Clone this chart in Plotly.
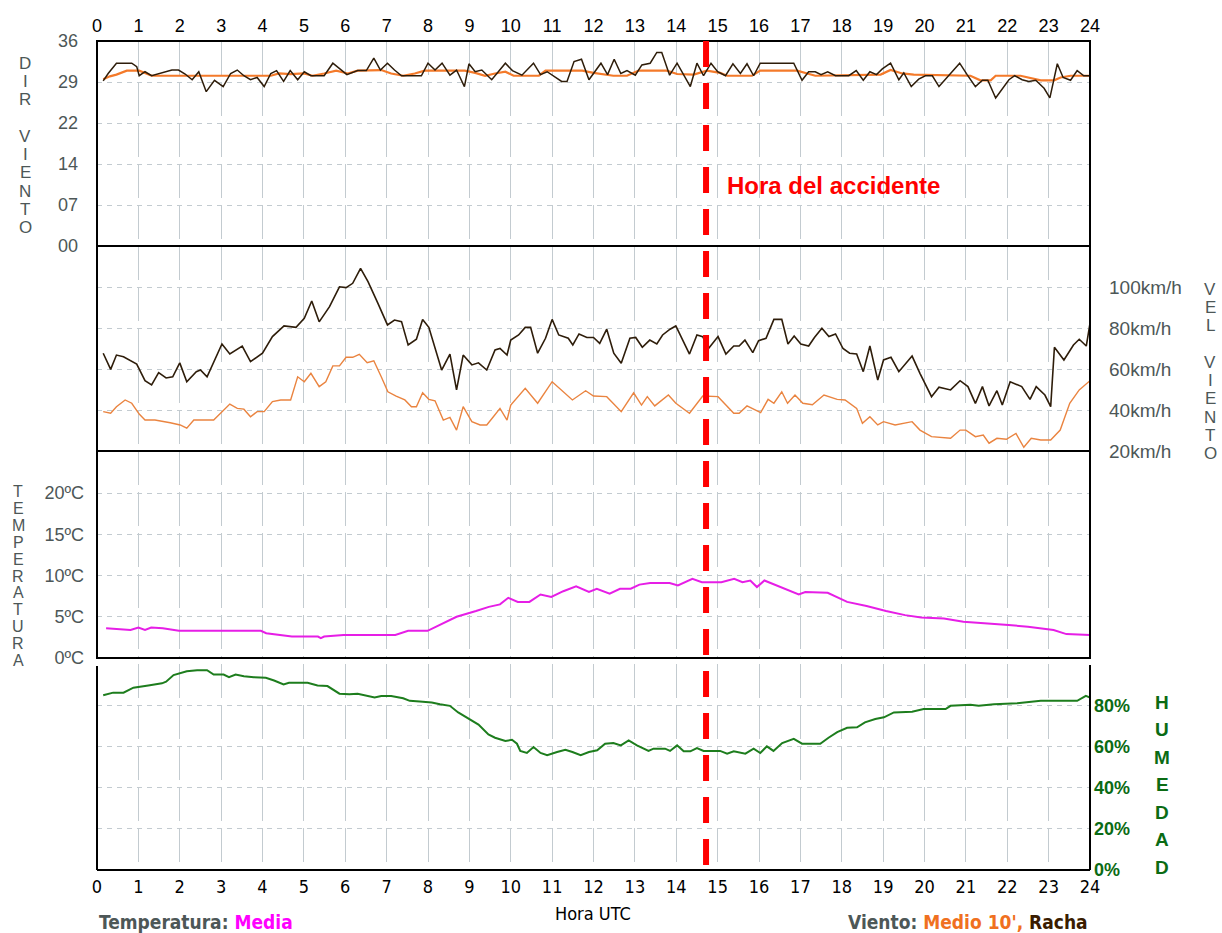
import plotly.graph_objects as go

# ---------------- data ----------------
HOUR_TICKS = list(range(25))
ACCIDENT_HOUR = 14.72

# Wind direction (tens of degrees)
DIR_TICKVALS = [0, 7.2, 14.4, 21.6, 28.8, 36]
DIR_TICKTEXT = ["00", "07", "14", "22", "29", "36"]

dir_racha_h = [0.15, 0.27, 0.47, 0.84, 0.96, 1.02, 1.16, 1.32, 1.81, 1.97, 2.13, 2.3, 2.46, 2.64, 2.84,
               3.05, 3.23, 3.39, 3.55, 3.71, 3.87, 4.04, 4.2, 4.34, 4.51, 4.67, 4.85, 5.01, 5.17, 5.49,
               5.7, 5.88, 6.04, 6.3, 6.51, 6.69, 6.85, 7.02, 7.19, 7.36, 7.84, 8.0, 8.17, 8.34, 8.53,
               8.69, 8.88, 8.99, 9.14, 9.3, 9.42, 9.54, 9.87, 10.04, 10.27, 10.55, 10.72, 10.88, 11.23,
               11.36, 11.53, 11.71, 11.89, 12.0, 12.18, 12.34, 12.5, 12.66, 12.81, 13.01, 13.17, 13.37,
               13.53, 13.65, 13.84, 14.02, 14.16, 14.34, 14.5, 14.66, 14.84, 15.0, 15.19, 15.37, 15.55,
               15.71, 15.87, 16.03, 16.84, 17.04, 17.2, 17.36, 17.5, 17.66, 17.85, 18.17, 18.35, 18.52,
               18.68, 18.84, 18.98, 19.18, 19.38, 19.5, 19.68, 19.86, 20.02, 20.19, 20.35, 20.63, 20.85,
               21.03, 21.23, 21.4, 21.53, 21.72, 21.88, 22.04, 22.18, 22.36, 22.52, 22.69, 22.89, 23.03,
               23.21, 23.35, 23.53, 23.69, 23.85, 24.0]
dir_racha = [29.0, 30.3, 32.1, 32.1, 31.5, 29.9, 30.6, 29.9, 30.9, 30.9, 30.2, 29.2, 30.6, 27.1, 29.1,
             28.0, 30.3, 30.9, 29.9, 29.2, 29.6, 28.0, 30.3, 30.8, 28.9, 30.8, 29.2, 30.6, 29.9, 29.9,
             32.1, 31.1, 30.1, 30.8, 30.8, 33.0, 30.9, 32.1, 30.9, 29.9, 29.9, 32.1, 30.9, 32.1, 30.0,
             30.9, 28.0, 32.0, 30.6, 30.9, 30.1, 29.2, 32.1, 30.8, 30.0, 32.1, 30.1, 30.6, 28.9,
             28.9, 32.4, 32.8, 29.2, 30.3, 32.1, 30.1, 32.8, 30.3, 30.8, 30.0, 31.8, 32.1,
             34.0, 34.0, 30.0, 32.1, 30.3, 28.0, 32.1, 29.9, 32.1, 30.6, 29.9, 32.0, 30.3,
             32.0, 29.9, 32.1, 32.1, 29.1, 30.6, 30.6, 30.1, 30.6, 29.9, 29.9, 30.8, 29.1,
             30.6, 30.1, 31.1, 32.1, 29.2, 30.4, 28.0, 29.3, 29.9, 29.9, 28.0, 30.3, 32.1,
             30.1, 28.0, 29.1, 29.1, 26.0, 27.7, 29.2, 29.9, 29.2, 28.9, 29.1, 27.7, 26.0,
             32.0, 29.6, 29.1, 30.8, 29.9, 29.9]

dir_medio_h = [0.15, 0.31, 0.47, 0.72, 1.02, 1.2, 1.32, 2.26, 4.2, 4.4, 4.68, 5.0, 5.21, 5.49, 5.78,
               6.06, 6.3, 6.87, 7.11, 7.4, 7.68, 7.92, 8.89, 9.14, 9.38, 9.62, 9.87, 10.07, 10.68,
               10.84, 11.73, 12.0, 12.32, 12.48, 12.81, 13.09, 13.77, 14.02, 14.42, 14.74, 15.06,
               15.23, 15.83, 16.03, 16.92, 17.12, 17.36, 18.94, 19.18, 19.46, 19.74, 21.11, 21.35,
               21.6, 21.72, 22.32, 22.56, 22.81, 23.13, 23.29, 23.53, 24.0]
dir_medio = [29.3, 29.8, 30.1, 30.8, 30.8, 30.3, 29.9, 29.9, 29.9, 30.3, 30.2, 30.3, 29.9, 30.3, 30.8,
             30.3, 30.8, 30.9, 30.3, 29.9, 30.3, 30.8, 30.8, 30.4, 29.9, 30.3, 30.6, 29.9, 29.9,
             30.8, 30.8, 30.4, 30.1, 29.9, 29.9, 30.8, 30.8, 30.2, 30.1, 30.8, 30.4,
             29.9, 29.9, 30.8, 30.8, 30.4, 29.9, 30.1, 30.9, 30.3, 30.1, 29.9, 29.1,
             29.1, 29.9, 29.9, 29.5, 29.1, 29.1, 29.6, 29.9, 29.9]

# Wind speed (km/h)
SPD_TICKVALS = [20, 40, 60, 80, 100]
SPD_TICKTEXT = ["20km/h", "40km/h", "60km/h", "80km/h", "100km/h"]

spd_racha_h = [0.15, 0.33, 0.47, 0.64, 0.96, 1.16, 1.32, 1.49, 1.67, 1.83, 2.0, 2.17, 2.4, 2.5, 2.66,
               3.02, 3.21, 3.51, 3.71, 4.0, 4.24, 4.52, 4.81, 5.01, 5.19, 5.37, 5.62, 5.86, 6.02, 6.18,
               6.37, 6.55, 6.79, 7.02, 7.19, 7.36, 7.52, 7.72, 7.87, 8.02, 8.33, 8.53, 8.69, 8.85, 9.06,
               9.22, 9.42, 9.62, 9.74, 9.91, 10.0, 10.19, 10.35, 10.48, 10.65, 10.84, 11.0, 11.16,
               11.39, 11.5, 11.65, 11.84, 12.0, 12.15, 12.32, 12.49, 12.67, 12.88, 13.02, 13.18,
               13.36, 13.53, 13.67, 13.85, 13.99, 14.16, 14.32, 14.5, 14.64, 14.78, 15.01, 15.2,
               15.39, 15.52, 15.66, 15.85, 15.99, 16.17, 16.36, 16.55, 16.7, 16.85, 17.01, 17.2,
               17.34, 17.52, 17.69, 17.85, 18.03, 18.19, 18.36, 18.52, 18.68, 18.87, 19.01, 19.19,
               19.38, 19.7, 19.89, 20.17, 20.35, 20.63, 20.86, 21.05, 21.23, 21.4, 21.56, 21.75,
               21.88, 22.07, 22.35, 22.55, 22.7, 22.91, 23.05, 23.14, 23.37, 23.6, 23.74, 23.91, 24.0]
spd_racha = [67.7, 59.8, 66.8, 66.0, 62.4, 54.3, 52.2, 58.2, 55.6, 56.2, 63.0, 53.8, 58.7, 59.5, 56.2,
             72.2, 67.3, 71.2, 63.6, 67.7, 75.8, 81.0, 80.3, 84.7, 93.2, 83.0, 90.4, 100.1, 99.7, 101.8,
             109.1, 102.6, 92.0, 81.5, 83.9, 83.1, 71.7, 74.5, 84.2, 80.3, 59.5, 67.3, 49.8, 66.8, 62.0,
             63.0, 59.5, 69.3, 70.0, 66.8, 74.1, 76.6, 80.3, 80.3, 67.7, 75.0, 84.2, 76.6,
             75.0, 71.7, 77.1, 75.4, 75.4, 72.5, 79.4, 67.7, 62.8, 75.0, 75.4, 70.6,
             74.1, 72.2, 76.6, 79.4, 81.0, 74.1, 67.3, 76.6, 75.8, 70.0, 75.8, 67.3,
             71.2, 71.2, 74.1, 68.0, 73.8, 75.0, 84.2, 84.2, 72.2, 76.1, 72.2, 71.2,
             75.4, 79.9, 75.8, 77.1, 70.0, 67.7, 67.3, 58.7, 71.2, 54.6, 64.4, 65.7,
             58.7, 66.3, 57.9, 46.5, 51.1, 49.8, 54.3, 51.4, 43.2, 51.4, 42.0, 49.4,
             42.4, 53.8, 51.4, 45.2, 51.4, 47.3, 41.6, 70.6, 64.4, 71.7, 74.5, 71.2, 82.3]

spd_medio_h = [0.15, 0.33, 0.47, 0.68, 0.84, 1.02, 1.16, 1.4, 1.77, 2.01, 2.17, 2.34, 2.82, 3.02, 3.21,
               3.39, 3.55, 3.71, 3.87, 4.04, 4.24, 4.44, 4.68, 4.85, 5.01, 5.17, 5.37, 5.53, 5.7, 5.86,
               6.02, 6.18, 6.34, 6.53, 6.69, 6.87, 7.03, 7.23, 7.44, 7.6, 7.72, 7.87, 8.02, 8.17, 8.37,
               8.53, 8.69, 8.85, 9.06, 9.26, 9.42, 9.58, 9.74, 9.91, 10.0, 10.35, 10.65, 11.0, 11.21,
               11.49, 11.81, 12.0, 12.32, 12.67, 12.97, 13.16, 13.3, 13.48, 13.81, 13.99, 14.32,
               14.64, 15.01, 15.39, 15.52, 15.71, 16.04, 16.22, 16.36, 16.55, 16.69, 16.87, 17.06,
               17.29, 17.57, 17.89, 18.08, 18.36, 18.5, 18.68, 18.87, 19.01, 19.29, 19.47, 19.7,
               19.89, 20.17, 20.63, 20.86, 21.0, 21.23, 21.42, 21.56, 21.75, 21.98, 22.21, 22.4,
               22.58, 22.81, 23.05, 23.28, 23.51, 23.74, 24.0]
spd_medio = [39.2, 38.4, 41.6, 44.9, 43.3, 38.0, 35.1, 35.1, 33.8, 32.7, 31.1, 35.1, 35.1, 39.2, 42.9,
             40.8, 40.4, 36.7, 39.2, 39.2, 44.1, 44.9, 44.9, 56.2, 53.8, 57.9, 51.4, 53.8, 61.5, 61.5,
             65.7, 65.7, 67.2, 63.1, 64.0, 56.2, 48.9, 46.8, 44.9, 41.6, 41.6, 48.4, 45.2, 44.5, 35.1,
             36.4, 30.2, 41.6, 34.3, 32.7, 32.7, 36.7, 40.8, 35.1, 42.4, 50.6, 43.3, 53.8, 49.8,
             44.9, 49.4, 46.8, 46.5, 39.2, 48.4, 42.4, 46.5, 42.0, 47.3, 43.3, 38.4,
             46.8, 46.5, 38.4, 38.4, 42.0, 38.7, 45.2, 43.3, 48.9, 43.3, 47.3, 43.3,
             42.6, 47.3, 45.2, 44.9, 40.8, 33.5, 36.7, 32.7, 34.3, 32.7, 33.5, 34.3,
             30.2, 27.0, 26.2, 30.2, 30.2, 27.0, 27.8, 23.8, 26.2, 25.7, 28.6, 21.8,
             26.2, 25.4, 25.4, 30.2, 43.3, 49.8, 54.3]

# Temperature (ºC)
TEMP_TICKVALS = [0, 5, 10, 15, 20]
TEMP_TICKTEXT = ["0ºC", "5ºC", "10ºC", "15ºC", "20ºC"]
temp_h = [0.22, 0.81, 1.0, 1.16, 1.31, 1.59, 1.98, 3.96, 4.09, 4.4, 4.71, 5.34, 5.41, 5.49, 5.96, 7.21,
          7.52, 7.99, 8.38, 8.69, 9.16, 9.47, 9.74, 9.94, 10.17, 10.45, 10.72, 10.98, 11.27, 11.58,
          11.89, 12.08, 12.39, 12.64, 12.9, 13.11, 13.37, 13.84, 14.04, 14.39, 14.62, 15.09, 15.4,
          15.6, 15.79, 15.95, 16.13, 16.41, 16.73, 16.96, 17.12, 17.66, 18.13, 18.6, 19.07, 19.53,
          19.92, 20.47, 20.94, 21.56, 22.03, 22.5, 23.12, 23.43, 24.0]
temp = [3.6, 3.4, 3.7, 3.4, 3.7, 3.6, 3.3, 3.3, 3.0, 2.8, 2.6, 2.6, 2.4, 2.6, 2.8, 2.8,
        3.3, 3.3, 4.3, 5.0, 5.7, 6.2, 6.5, 7.3, 6.8, 6.8, 7.7, 7.4, 8.1, 8.7,
        8.0, 8.4, 7.8, 8.4, 8.4, 8.9, 9.1, 9.1, 8.8, 9.6, 9.2, 9.2, 9.6,
        9.2, 9.4, 8.6, 9.4, 8.8, 8.2, 7.7, 8.0, 7.9, 6.8, 6.3, 5.7, 5.2,
        4.9, 4.8, 4.4, 4.2, 4.0, 3.8, 3.4, 2.9, 2.8]

# Relative humidity (%)
HUM_TICKVALS = [0, 20, 40, 60, 80]
HUM_TICKTEXT = ["0%", "20%", "40%", "60%", "80%"]
hum_h = [0.15, 0.39, 0.64, 0.88, 1.24, 1.57, 1.67, 1.85, 2.17, 2.42, 2.66, 2.82, 3.06, 3.19, 3.35, 3.55,
         3.79, 4.08, 4.28, 4.51, 4.64, 5.09, 5.33, 5.57, 5.86, 6.1, 6.3, 6.51, 6.71, 6.87, 7.11, 7.4,
         7.56, 7.8, 8.09, 8.29, 8.53, 8.73, 8.98, 9.22, 9.46, 9.62, 9.87, 10.03, 10.15, 10.23, 10.39,
         10.55, 10.72, 10.88, 11.12, 11.32, 11.49, 11.69, 11.89, 12.09, 12.28, 12.48, 12.66, 12.85,
         13.05, 13.33, 13.45, 13.73, 13.85, 14.02, 14.18, 14.34, 14.5, 14.66, 15.06, 15.23, 15.39,
         15.67, 15.87, 16.03, 16.19, 16.35, 16.56, 16.84, 17.04, 17.48, 17.68, 17.89, 18.13, 18.37,
         18.56, 18.81, 19.02, 19.26, 19.7, 19.98, 20.51, 20.63, 21.11, 21.31, 21.68, 22.24, 22.81,
         23.69, 23.9, 24.0]
hum = [84.8, 86.1, 86.1, 88.5, 89.6, 90.6, 91.4, 94.6, 96.5, 97.0, 97.0, 94.9, 94.9, 93.6, 94.9, 94.1,
       93.6, 93.3, 92.0, 90.1, 90.9, 90.9, 89.6, 89.3, 85.6, 85.3, 85.6, 84.8, 83.7, 84.5, 84.5, 83.4,
       82.1, 81.8, 81.3, 80.5, 79.7, 76.5, 73.3, 70.6, 65.8, 64.2, 62.6, 63.2, 61.3, 57.8, 56.8,
       59.7, 56.8, 55.7, 57.3, 58.4, 57.3, 55.7, 57.3, 58.1, 61.3, 61.6, 60.5, 62.9,
       60.5, 57.8, 58.9, 58.9, 57.8, 60.5, 57.6, 57.6, 59.2, 57.8, 57.8, 56.5, 57.6,
       56.5, 58.9, 56.8, 60.0, 57.8, 61.6, 63.7, 61.3, 61.3, 64.2, 66.9, 69.0, 69.3,
       71.7, 73.3, 74.1, 76.5, 76.8, 78.1, 78.1, 79.7, 80.2, 79.7, 80.5, 81.0, 82.1,
       82.1, 84.5, 83.7]

# ---------------- layout geometry ----------------
W, H = 1222, 933
L, R, T, B = 97, 132, 41, 63
PW, PH = W - L - R, H - T - B


def yp(y):
    return (H - B - y) / PH


def xp(x):
    return (x - L) / PW


GRAY_TXT = "#4d5757"
GRID = "#c3cbd0"
SANS = "Liberation Sans, Arial, sans-serif"
NARROW = "Liberation Sans Narrow, Arial Narrow, DejaVu Sans Condensed, sans-serif"

C_RACHA = "#2e1d0a"
C_MEDIO_DIR = "#f47a2a"
C_MEDIO_SPD = "#ea8440"
C_TEMP = "#e61ee6"
C_HUM = "#1d7d1d"
C_GREEN_TXT = "#0b6b14"

fig = go.Figure()

fig.add_trace(go.Scatter(x=dir_medio_h, y=dir_medio, mode="lines", line=dict(color=C_MEDIO_DIR, width=2.2),
                         xaxis="x", yaxis="y", showlegend=False, name="Medio 10'"))
fig.add_trace(go.Scatter(x=dir_racha_h, y=dir_racha, mode="lines", line=dict(color=C_RACHA, width=1.5),
                         xaxis="x", yaxis="y", showlegend=False, name="Racha"))
fig.add_trace(go.Scatter(x=spd_medio_h, y=spd_medio, mode="lines", line=dict(color=C_MEDIO_SPD, width=1.4),
                         xaxis="x2", yaxis="y2", showlegend=False, name="Medio 10'"))
fig.add_trace(go.Scatter(x=spd_racha_h, y=spd_racha, mode="lines", line=dict(color=C_RACHA, width=1.6),
                         xaxis="x2", yaxis="y2", showlegend=False, name="Racha"))
fig.add_trace(go.Scatter(x=temp_h, y=temp, mode="lines", line=dict(color=C_TEMP, width=2),
                         xaxis="x3", yaxis="y3", showlegend=False, name="Media"))
fig.add_trace(go.Scatter(x=hum_h, y=hum, mode="lines", line=dict(color=C_HUM, width=2),
                         xaxis="x4", yaxis="y4", showlegend=False, name="Humedad"))


def xax(anchor, labels=False, side="bottom", font=None, standoff=0):
    d = dict(range=[0, 24], tickmode="array", tickvals=HOUR_TICKS, ticktext=[str(h) for h in HOUR_TICKS],
             showgrid=True, gridcolor=GRID, gridwidth=1.2, griddash="34px,7px", zeroline=False,
             showline=False, ticks="", showticklabels=labels, anchor=anchor, side=side, fixedrange=True)
    if font:
        d["tickfont"] = font
    if standoff:
        d["ticklabelstandoff"] = standoff
    return d


def yax(domain, rng, vals, text, side, font, standoff):
    return dict(domain=domain, range=rng, tickmode="array", tickvals=vals, ticktext=text, side=side,
                showgrid=True, gridcolor=GRID, gridwidth=1, griddash="5px,5px", zeroline=False,
                showline=False, ticks="", tickfont=font, ticklabelstandoff=standoff, fixedrange=True)


fig.update_layout(
    width=W, height=H,
    margin=dict(l=L, r=R, t=T, b=B, pad=0),
    paper_bgcolor="white", plot_bgcolor="white",
    xaxis=xax("y", labels=True, side="top", font=dict(family=SANS, size=18, color="black"), standoff=4),
    xaxis2=dict(xax("y2"), matches="x"),
    xaxis3=dict(xax("y3"), matches="x"),
    xaxis4=dict(xax("y4", labels=True, side="bottom", font=dict(family=NARROW, size=18, color="black"),
                    standoff=4), matches="x"),
    yaxis=yax([yp(246), 1.0], [0, 36], DIR_TICKVALS, DIR_TICKTEXT, "left",
              dict(family=SANS, size=18, color=GRAY_TXT), 18),
    yaxis2=yax([yp(451), yp(246)], [20, 120], SPD_TICKVALS, SPD_TICKTEXT, "right",
               dict(family=SANS, size=19, color=GRAY_TXT), 18),
    yaxis3=yax([yp(658), yp(451)], [0, 25.1], TEMP_TICKVALS, TEMP_TICKTEXT, "left",
               dict(family=SANS, size=18, color=GRAY_TXT), 12),
    yaxis4=yax([0, yp(664)], [0, 100], HUM_TICKVALS, HUM_TICKTEXT, "right",
               dict(family=SANS, size=18, color=C_GREEN_TXT, weight="bold"), 3),
)

# panel borders
shapes = [
    dict(type="rect", xref="paper", yref="paper", x0=0, x1=1, y0=yp(658), y1=1,
         line=dict(color="black", width=2), fillcolor="rgba(0,0,0,0)", layer="above"),
    dict(type="line", xref="paper", yref="paper", x0=0, x1=1, y0=yp(246), y1=yp(246),
         line=dict(color="black", width=2), layer="above"),
    dict(type="line", xref="paper", yref="paper", x0=0, x1=1, y0=yp(451), y1=yp(451),
         line=dict(color="black", width=2), layer="above"),
    dict(type="line", xref="paper", yref="paper", x0=0, x1=0, y0=0, y1=yp(666),
         line=dict(color="black", width=2), layer="above"),
    dict(type="line", xref="paper", yref="paper", x0=1, x1=1, y0=0, y1=yp(665),
         line=dict(color="black", width=2), layer="above"),
    dict(type="line", xref="paper", yref="paper", x0=0, x1=1, y0=0, y1=0,
         line=dict(color="black", width=2), layer="above"),
    # accident marker
    dict(type="line", xref="x", yref="paper", x0=ACCIDENT_HOUR, x1=ACCIDENT_HOUR, y0=1.0, y1=yp(865),
         line=dict(color="#ff0000", width=6, dash="26px,16px"), layer="above"),
]
fig.update_layout(shapes=shapes)

ann = []


def stacked(letters, xpix, ystart, step, font):
    for i, ch in enumerate(letters):
        if ch.strip():
            ann.append(dict(text=ch, x=xp(xpix), y=yp(ystart + i * step), xref="paper", yref="paper",
                            xanchor="center", yanchor="middle", showarrow=False, font=font))


thin = dict(family=SANS, size=17, color=GRAY_TXT)
stacked("DIR VIENTO", 25, 63, 18.3, thin)
stacked("VEL VIENTO", 1210, 289, 18.3, thin)
stacked("TEMPERATURA", 18, 492, 16.8, dict(family=SANS, size=16, color=GRAY_TXT))
stacked("HUMEDAD", 1162, 702, 27.5, dict(family=SANS, size=19, color=C_GREEN_TXT, weight="bold"))

ann.append(dict(text="Hora del accidente", x=xp(725), y=yp(185), xref="paper", yref="paper",
                xanchor="left", yanchor="middle", showarrow=False,
                font=dict(family=SANS, size=24, color="#ff0000", weight="bold")))
ann.append(dict(text="Hora UTC", x=xp(593), y=yp(913), xref="paper", yref="paper",
                xanchor="center", yanchor="middle", showarrow=False,
                font=dict(family=NARROW, size=18, color="black")))
ann.append(dict(text='Temperatura: <span style="color:#ff00ff">Media</span>', x=xp(97), y=yp(922),
                xref="paper", yref="paper", xanchor="left", yanchor="middle", showarrow=False,
                font=dict(family=NARROW, size=19, color=GRAY_TXT, weight="bold")))
ann.append(dict(text='Viento: <span style="color:#f07020">Medio 10\',</span> '
                     '<span style="color:#3a1c00">Racha</span>', x=xp(1090), y=yp(922),
                xref="paper", yref="paper", xanchor="right", yanchor="middle", showarrow=False,
                font=dict(family=NARROW, size=19, color=GRAY_TXT, weight="bold")))
fig.update_layout(annotations=ann)

fig.write_html("out.html", config={"displayModeBar": False},
               post_script="document.body.style.margin='0';document.body.style.overflow='hidden';")
